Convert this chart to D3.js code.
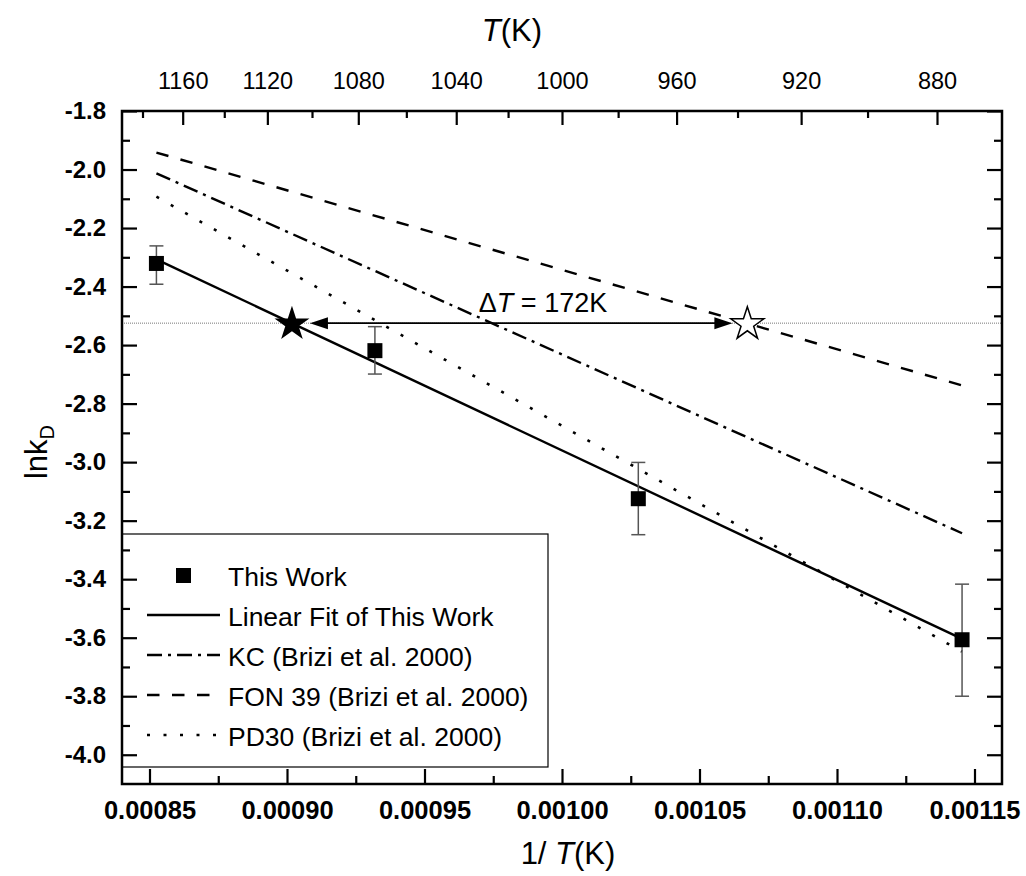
<!DOCTYPE html>
<html>
<head>
<meta charset="utf-8">
<script src="https://cdn.jsdelivr.net/npm/d3@7"></script>
<style>
  body { margin: 0; background: #fff; }
  text { font-family: "Liberation Sans", Arial, sans-serif; fill: #000; }
</style>
</head>
<body>
<svg id="chart" width="1026" height="876"></svg>
<script>
// measured points (T = 1173, 1073, 973, 873 K)
const invT = [1 / 1173, 1 / 1073, 1 / 973, 1 / 873];
const lnkD = [-2.321, -2.619, -3.125, -3.607];
const errLow = [-2.392, -2.699, -3.248, -3.800];
const errHigh = [-2.261, -2.537, -3.001, -3.417];

// straight lines, drawn between the two end temperatures
const lineX = [1 / 1173, 1 / 873];
const fitY = [-2.307, -3.604];
const kcY = [-2.013, -3.243];
const fonY = [-1.942, -2.738];
const pdY = [-2.093, -3.648];

// stars and the horizontal reference level
const starX = [0.0009018, 0.0010674];
const starY = -2.525;
const deltaT = '172K';

const xTicks = [0.00085, 0.00090, 0.00095, 0.00100, 0.00105, 0.00110, 0.00115];
const xMinor = [0.000875, 0.000925, 0.000975, 0.001025, 0.001075, 0.001125];
const yTicks = [-4.0, -3.8, -3.6, -3.4, -3.2, -3.0, -2.8, -2.6, -2.4, -2.2, -2.0, -1.8];
const yMinor = [-3.9, -3.7, -3.5, -3.3, -3.1, -2.9, -2.7, -2.5, -2.3, -2.1, -1.9];
const topTicks = [1160, 1120, 1080, 1040, 1000, 960, 920, 880];
const topMinor = [1180, 1140, 1100, 1060, 1020, 980, 940, 900];

const legendNames = ['This Work', 'Linear Fit of This Work', 'KC (Brizi et al. 2000)',
  'FON 39 (Brizi et al. 2000)', 'PD30 (Brizi et al. 2000)'];

const m = {l: 122, r: 1002, t: 111, b: 784};

const svg = d3.select('#chart');
const x = d3.scaleLinear().domain([0.00084, 0.00116]).range([m.l, m.r]);
const y = d3.scaleLinear().domain([-4.1, -1.8]).range([m.b, m.t]);

const styles = {
  fit: {dash: null, w: 2.4},
  kc: {dash: '15,6,3,6', w: 2.4},
  fon: {dash: '12.5,12.5', w: 2.4},
  pd: {dash: '3,13.5', w: 2.6}
};

// legend box (under the axis ticks)
const lg = svg.append('g');
lg.append('rect')
  .attr('x', m.l).attr('y', 534).attr('width', 426).attr('height', 233)
  .attr('fill', '#fff').attr('stroke', '#000').attr('stroke-width', 1.2);

const legendKeys = [null, 'fit', 'kc', 'fon', 'pd'];
legendNames.forEach((name, i) => {
  const by = 586 + i * 40;
  if (i === 0) {
    lg.append('rect').attr('x', 176).attr('y', by - 18).attr('width', 15).attr('height', 15).attr('fill', '#000');
  } else {
    const s = styles[legendKeys[i]];
    lg.append('line')
      .attr('x1', 147).attr('x2', 220).attr('y1', by - 11).attr('y2', by - 11)
      .attr('stroke', '#000').attr('stroke-width', s.w)
      .attr('stroke-dasharray', s.dash);
  }
  lg.append('text').attr('x', 228).attr('y', by)
    .attr('font-size', 26.5).text(name);
});

// horizontal dotted level line
svg.append('line')
  .attr('x1', m.l).attr('x2', m.r).attr('y1', y(starY)).attr('y2', y(starY))
  .attr('stroke', '#777').attr('stroke-width', 1).attr('stroke-dasharray', '1,1');

// lines
const lineGen = d3.line().x(d => x(d[0])).y(d => y(d[1]));
[['fit', fitY], ['kc', kcY], ['fon', fonY], ['pd', pdY]].forEach(([k, ys]) => {
  const s = styles[k];
  svg.append('path')
    .datum(lineX.map((v, i) => [v, ys[i]]))
    .attr('d', lineGen)
    .attr('fill', 'none').attr('stroke', '#000')
    .attr('stroke-width', s.w)
    .attr('stroke-dasharray', s.dash);
});

// error bars + squares
const pts = invT.map((v, i) => ({x: v, y: lnkD[i], lo: errLow[i], hi: errHigh[i]}));
const eb = svg.append('g').attr('stroke', '#555').attr('stroke-width', 1.5);
pts.forEach(p => {
  eb.append('line').attr('x1', x(p.x)).attr('x2', x(p.x)).attr('y1', y(p.lo)).attr('y2', y(p.hi));
  eb.append('line').attr('x1', x(p.x) - 7).attr('x2', x(p.x) + 7).attr('y1', y(p.lo)).attr('y2', y(p.lo));
  eb.append('line').attr('x1', x(p.x) - 7).attr('x2', x(p.x) + 7).attr('y1', y(p.hi)).attr('y2', y(p.hi));
});
svg.append('g').selectAll('rect').data(pts).join('rect')
  .attr('x', d => x(d.x) - 7.5).attr('y', d => y(d.y) - 7.5)
  .attr('width', 15).attr('height', 15).attr('fill', '#000');

// arrow between the stars
const ay = y(starY);
const ax1 = x(starX[0]) + 18, ax2 = x(starX[1]) - 15;
svg.append('line').attr('x1', ax1 + 10).attr('x2', ax2 - 10).attr('y1', ay).attr('y2', ay)
  .attr('stroke', '#000').attr('stroke-width', 1.6);
svg.append('path').attr('d', `M${ax1},${ay}l18,-6l0,12z`).attr('fill', '#000');
svg.append('path').attr('d', `M${ax2},${ay}l-18,-6l0,12z`).attr('fill', '#000');

const star = d3.symbol().type(d3.symbolStar).size(380);
svg.append('path').attr('d', star).attr('transform', `translate(${x(starX[0])},${ay + 1})`)
  .attr('fill', '#000');
svg.append('path').attr('d', d3.symbol().type(d3.symbolStar).size(340))
  .attr('transform', `translate(${x(starX[1])},${ay + 1})`)
  .attr('fill', '#fff').attr('stroke', '#000').attr('stroke-width', 1.5);

const dl = svg.append('text').attr('x', 543).attr('y', 312).attr('font-size', 27).attr('text-anchor', 'middle');
dl.append('tspan').text('\u0394');
dl.append('tspan').attr('font-style', 'italic').text('T');
dl.append('tspan').text(' = ' + deltaT);

// axes, ticks pointing inward
const tickStyle = g => {
  g.select('.domain').remove();
  g.selectAll('.tick line').attr('stroke', '#000').attr('stroke-width', 2.2);
};

svg.append('g').attr('transform', `translate(0,${m.b})`)
  .call(d3.axisBottom(x).tickValues(xTicks).tickSize(-15).tickPadding(17).tickFormat(d => d.toFixed(5)))
  .call(tickStyle)
  .call(g => g.selectAll('text').attr('font-size', 25.5).attr('font-weight', 'bold'));
svg.append('g').attr('transform', `translate(0,${m.b})`)
  .call(d3.axisBottom(x).tickValues(xMinor).tickSize(-8).tickFormat(''))
  .call(tickStyle);

svg.append('g').attr('transform', `translate(${m.l},0)`)
  .call(d3.axisLeft(y).tickValues(yTicks).tickSize(-15).tickPadding(16).tickFormat(d => d.toFixed(1)))
  .call(tickStyle)
  .call(g => g.selectAll('text').attr('font-size', 24).attr('font-weight', 'bold'));
svg.append('g').attr('transform', `translate(${m.l},0)`)
  .call(d3.axisLeft(y).tickValues(yMinor).tickSize(-8).tickFormat(''))
  .call(tickStyle);

svg.append('g').attr('transform', `translate(${m.r},0)`)
  .call(d3.axisRight(y).tickValues(yTicks).tickSize(-15).tickFormat(''))
  .call(tickStyle);
svg.append('g').attr('transform', `translate(${m.r},0)`)
  .call(d3.axisRight(y).tickValues(yMinor).tickSize(-8).tickFormat(''))
  .call(tickStyle);

svg.append('g').attr('transform', `translate(0,${m.t})`)
  .call(d3.axisTop(x).tickValues(topTicks.map(t => 1 / t)).tickSize(-14).tickPadding(22)
    .tickFormat(v => Math.round(1 / v)))
  .call(tickStyle)
  .call(g => g.selectAll('text').attr('font-size', 23.5));
svg.append('g').attr('transform', `translate(0,${m.t})`)
  .call(d3.axisTop(x).tickValues(topMinor.map(t => 1 / t)).tickSize(-7).tickFormat(''))
  .call(tickStyle);

// frame
svg.append('rect')
  .attr('x', m.l).attr('y', m.t).attr('width', m.r - m.l).attr('height', m.b - m.t)
  .attr('fill', 'none').attr('stroke', '#000').attr('stroke-width', 2.5);

// titles
const tt = svg.append('text').attr('x', 512).attr('y', 41).attr('font-size', 31).attr('text-anchor', 'middle');
tt.append('tspan').attr('font-style', 'italic').text('T');
tt.append('tspan').text('(K)');

const bt = svg.append('text').attr('x', 568).attr('y', 864).attr('font-size', 31).attr('text-anchor', 'middle');
bt.append('tspan').text('1/ ');
bt.append('tspan').attr('font-style', 'italic').text('T');
bt.append('tspan').text('(K)');

const yt = svg.append('text').attr('transform', 'translate(47,452) rotate(-90)')
  .attr('font-size', 31).attr('text-anchor', 'middle');
yt.append('tspan').text('lnk');
yt.append('tspan').attr('font-size', 20).attr('dy', 7).text('D');
</script>
</body>
</html>
